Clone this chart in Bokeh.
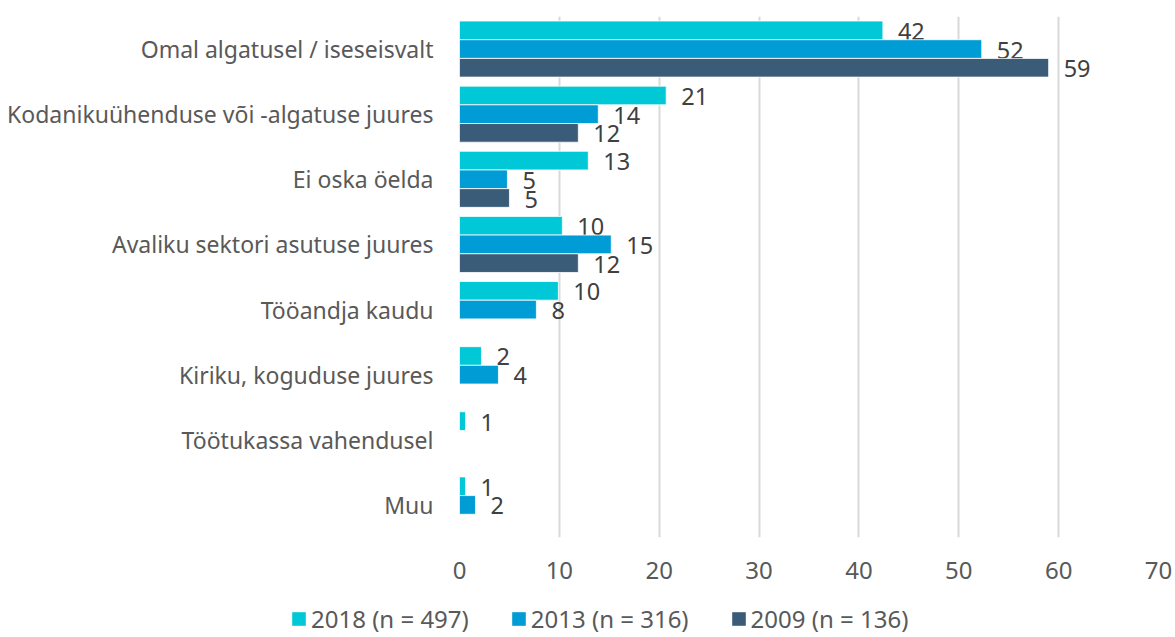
from bokeh.plotting import figure
from bokeh.models import ColumnDataSource, Range1d, FactorRange, FixedTicker, Legend, LegendItem
from bokeh.transform import dodge
from bokeh.core.properties import value
from bokeh.embed import file_html
from bokeh.resources import INLINE

categories = [
    "Omal algatusel / iseseisvalt",
    "Kodanikuühenduse või -algatuse juures",
    "Ei oska öelda",
    "Avaliku sektori asutuse juures",
    "Tööandja kaudu",
    "Kiriku, koguduse juures",
    "Töötukassa vahendusel",
    "Muu",
]
series_names = ["2018 (n = 497)", "2013 (n = 316)", "2009 (n = 136)"]
values_2018 = [42.4, 20.7, 12.9, 10.3, 9.9, 2.2, 0.6, 0.6]
values_2013 = [52.3, 13.9, 4.8, 15.2, 7.7, 3.9, None, 1.6]
values_2009 = [59.0, 11.9, 5.0, 11.9, None, None, None, None]
x_ticks = [0, 10, 20, 30, 40, 50, 60, 70]

colors = ["#00C8D7", "#009CD6", "#3A5C78"]
FONT = "Noto Sans"
TEXT = "#595959"

W = 1175
H_MAIN = 598
H_LEG = 39

p = figure(
    width=W, height=H_MAIN,
    y_range=FactorRange(factors=list(reversed(categories)), range_padding=0, factor_padding=0),
    x_range=Range1d(0, 70),
    output_backend="svg", toolbar_location=None,
    min_border_left=459, min_border_right=17, min_border_top=16, min_border_bottom=61,
)
p.outline_line_color = None
p.background_fill_color = "white"

bar_h = 0.287
offsets = [bar_h, 0.0, -bar_h]
sources = []
for vals, off, col in zip([values_2018, values_2013, values_2009], offsets, colors):
    cats = [c for c, v in zip(categories, vals) if v is not None]
    vs = [v for v in vals if v is not None]
    src = ColumnDataSource(dict(cat=cats, val=vs, lab=[f"{v:.0f}" for v in vs]))
    sources.append(src)
    p.hbar(y=dodge("cat", off, range=p.y_range), right="val", left=0, height=bar_h,
           source=src, fill_color=col, line_color="white", line_width=0.8)
    p.text(x="val", y=dodge("cat", off, range=p.y_range), text="lab", source=src,
           x_offset=15, y_offset=1, text_align="left", text_baseline="middle",
           text_font=value(FONT), text_font_size="23.5px", text_color="#404040")

p.xaxis.ticker = FixedTicker(ticks=x_ticks)
p.xaxis.axis_line_color = None
p.xaxis.major_tick_line_color = None
p.xaxis.minor_tick_line_color = None
p.xaxis.major_tick_out = 0
p.xaxis.major_tick_in = 0
p.xaxis.major_label_standoff = 24
p.xaxis.major_label_text_font = FONT
p.xaxis.major_label_text_font_size = "24px"
p.xaxis.major_label_text_color = TEXT

p.yaxis.axis_line_color = None
p.yaxis.major_tick_line_color = None
p.yaxis.minor_tick_line_color = None
p.yaxis.major_tick_out = 0
p.yaxis.major_tick_in = 0
p.yaxis.major_label_standoff = 26
p.yaxis.major_label_text_font = FONT
p.yaxis.major_label_text_font_size = "23px"
p.yaxis.major_label_text_color = TEXT

p.ygrid.grid_line_color = None
p.xgrid.grid_line_color = "#D9D9D9"
p.xgrid.grid_line_width = 2

# legend strip below the chart (separate root, so its frame spans the full width)
q = figure(width=W, height=H_LEG, x_range=Range1d(-2, -1), y_range=Range1d(-1, 1),
           x_axis_type=None, y_axis_type=None, output_backend="svg", toolbar_location=None,
           min_border=0, min_border_left=0, min_border_right=0, min_border_top=0, min_border_bottom=0)
q.outline_line_color = None
q.xgrid.visible = False
q.ygrid.visible = False
leg_renderers = []
for src, col in zip(sources, colors):
    # same series, drawn outside the strip's visible range; only the legend swatch shows
    leg_renderers.append(q.hbar(y=0, left=0, right="val", height=0.5, source=src,
                                fill_color=col, line_color=None))

legend = Legend(
    items=[LegendItem(label=n, renderers=[r]) for n, r in zip(series_names, leg_renderers)],
    orientation="horizontal", location=(290, 2),
    padding=0, margin=0, spacing=41, label_standoff=4,
    glyph_width=17, glyph_height=17,
    label_text_font=FONT, label_text_font_size="24px", label_text_color=TEXT,
    border_line_color=None, background_fill_alpha=0,
)
q.add_layout(legend)

open("out.html", "w").write(file_html([p, q], INLINE))
